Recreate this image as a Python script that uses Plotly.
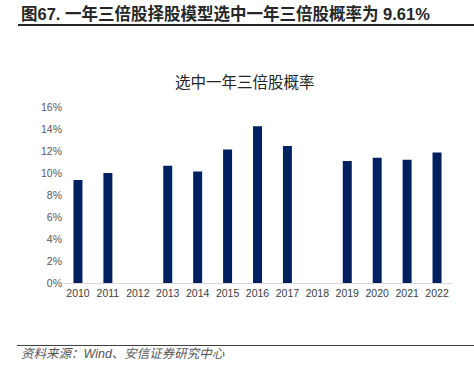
import plotly.graph_objects as go

years = ["2010", "2011", "2012", "2013", "2014", "2015", "2016", "2017", "2018", "2019", "2020", "2021", "2022"]
prob = [0.0936, 0.0999, 0.0, 0.1065, 0.1014, 0.1214, 0.1425, 0.1246, 0.0, 0.1110, 0.1138, 0.1120, 0.1187]
ytick_vals = [0, 0.02, 0.04, 0.06, 0.08, 0.10, 0.12, 0.14, 0.16]

FONT = "Liberation Sans, Arial, Noto Sans CJK SC, sans-serif"

fig = go.Figure(go.Bar(
    x=years, y=prob, marker=dict(color="#002060", line=dict(width=0)),
    width=0.3,
))

W, H = 474, 369
L, R, T, B = 63, 22, 106.7, 85.7
PW, PH = W - L - R, H - T - B

fig.update_layout(
    width=W, height=H,
    margin=dict(l=L, r=R, t=T, b=B, autoexpand=False),
    paper_bgcolor="white", plot_bgcolor="white",
    showlegend=False,
    font=dict(family=FONT, size=10.5, color="#595959"),
    xaxis=dict(type="category", showline=True, linecolor="#d9d9d9", linewidth=1,
               ticks="", tickfont=dict(size=10.5, color="#404040"), showgrid=False),
    yaxis=dict(range=[0, 0.16], tickvals=ytick_vals, tickformat=".0%", showgrid=False,
               zeroline=False, showline=False, ticks="", ticklen=0,
               tickfont=dict(size=10.5, color="#595959")),
)

def px_x(p):
    return (p - L) / PW

def px_y(p):
    return (H - B - p) / PH

# header text
fig.add_annotation(xref="paper", yref="paper", x=px_x(19), y=px_y(13),
                   xanchor="left", yanchor="middle", showarrow=False,
                   text="<b>图67. 一年三倍股择股模型选中一年三倍股概率为 9.61%</b>",
                   font=dict(family=FONT, size=16.5, color="#262626"))
# header line
fig.add_shape(type="line", xref="paper", yref="paper",
              x0=px_x(18), x1=px_x(474), y0=px_y(24.5), y1=px_y(24.5),
              line=dict(color="#262626", width=2))
# chart title
fig.add_annotation(xref="paper", yref="paper", x=px_x(245), y=px_y(82),
                   xanchor="center", yanchor="middle", showarrow=False,
                   text="选中一年三倍股概率",
                   font=dict(family=FONT, size=15.5, color="#262626"))
# footer line
fig.add_shape(type="line", xref="paper", yref="paper",
              x0=px_x(17), x1=px_x(474), y0=px_y(346), y1=px_y(346),
              line=dict(color="#404040", width=1))
# footer text
fig.add_annotation(xref="paper", yref="paper", x=px_x(19), y=px_y(355),
                   xanchor="left", yanchor="middle", showarrow=False,
                   text="<i>资料来源：Wind、安信证券研究中心</i>",
                   font=dict(family=FONT, size=12.5, color="#555555"))

fig.write_html("out.html", config={"displayModeBar": False},
               post_script="document.body.style.margin='0';document.body.style.overflow='hidden';")
